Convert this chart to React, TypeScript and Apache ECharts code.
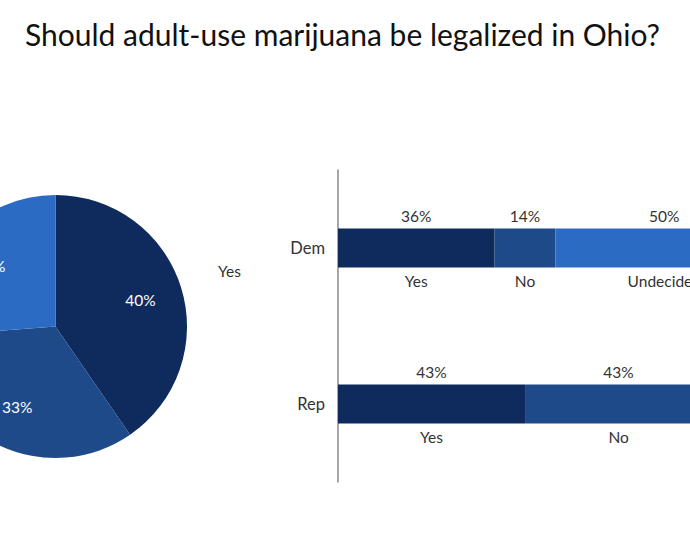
import React, { useEffect, useRef } from "react";
import * as echarts from "echarts";

const titleText = "Should adult-use marijuana be legalized in Ohio?";
const answerNames = ["Yes", "No", "Undecided"];
const pieValues = [40.4, 33.4, 26.2];
const partyCategories = ["Dem", "Rep"];
const demValues = [36, 14, 50];
const repValues = [43, 43, 14];
const pieSideLabel = "Yes";

const colors = ["#0f2a5c", "#1e4a89", "#2c6bc4"];
const FONT = "Lato, 'Open Sans', sans-serif";

export default function App() {
  const ref = useRef<HTMLDivElement>(null);
  useEffect(() => {
    if (!ref.current) return;
    const chart = echarts.init(ref.current, undefined, { renderer: "svg" });
    const pieData = answerNames.map((n, i) => ({ name: n, value: pieValues[i] }));
    chart.setOption({
      animation: false,
      backgroundColor: "#ffffff",
      textStyle: { fontFamily: FONT },
      title: {
        text: titleText,
        left: 20,
        top: 14,
        textStyle: { fontFamily: FONT, fontSize: 30, fontWeight: "normal", color: "#111111" },
      },
      graphic: [
        {
          type: "text",
          left: 218,
          top: 263,
          style: { text: pieSideLabel, fontFamily: FONT, fontSize: 15.5, fill: "#333333" },
        },
      ],
      grid: {
        left: 338,
        top: 170,
        height: 312,
        width: 435,
        containLabel: false,
        outerBoundsMode: "none",
      },
      xAxis: { type: "value", min: 0, max: 100, show: false },
      yAxis: {
        type: "category",
        data: partyCategories,
        inverse: true,
        axisLine: { show: true, lineStyle: { color: "#8a8a8a", width: 1.5 } },
        axisTick: { show: false },
        axisLabel: { fontFamily: FONT, fontSize: 16.5, color: "#333333", margin: 13 },
      },
      series: [
        {
          type: "pie",
          center: [55.5, 326.5],
          radius: 131.5,
          startAngle: 90,
          clockwise: true,
          silent: true,
          label: { show: false },
          labelLine: { show: false },
          color: colors,
          data: pieData,
        },
        {
          type: "pie",
          center: [55.5, 326.5],
          radius: 172,
          startAngle: 90,
          clockwise: true,
          silent: true,
          itemStyle: { color: "rgba(0,0,0,0)" },
          labelLine: { show: false },
          label: {
            show: true,
            position: "inside",
            fontFamily: FONT,
            fontSize: 15.5,
            color: "#ffffff",
            formatter: (p: any) => `${Math.round(p.value)}%`,
          },
          data: pieData,
        },
        ...answerNames.map((name, i) => ({
          type: "bar",
          name,
          stack: "total",
          barWidth: 39,
          data: [demValues[i], repValues[i]],
          itemStyle: { color: colors[i] },
          label: {
            show: true,
            position: "inside",
            formatter: (p: any) => `{v|${p.value}%}\n{g| }\n{n|${p.seriesName}}`,
            rich: {
              v: { fontFamily: FONT, fontSize: 15.5, color: "#333333", lineHeight: 20 },
              g: { fontSize: 10, lineHeight: 45 },
              n: { fontFamily: FONT, fontSize: 15.5, color: "#333333", lineHeight: 20 },
            },
          },
        })),
      ],
    });
    return () => chart.dispose();
  }, []);
  return (
    <div
      ref={ref}
      style={{ position: "fixed", left: 0, top: 0, width: 690, height: 550, overflow: "hidden" }}
    />
  );
}
